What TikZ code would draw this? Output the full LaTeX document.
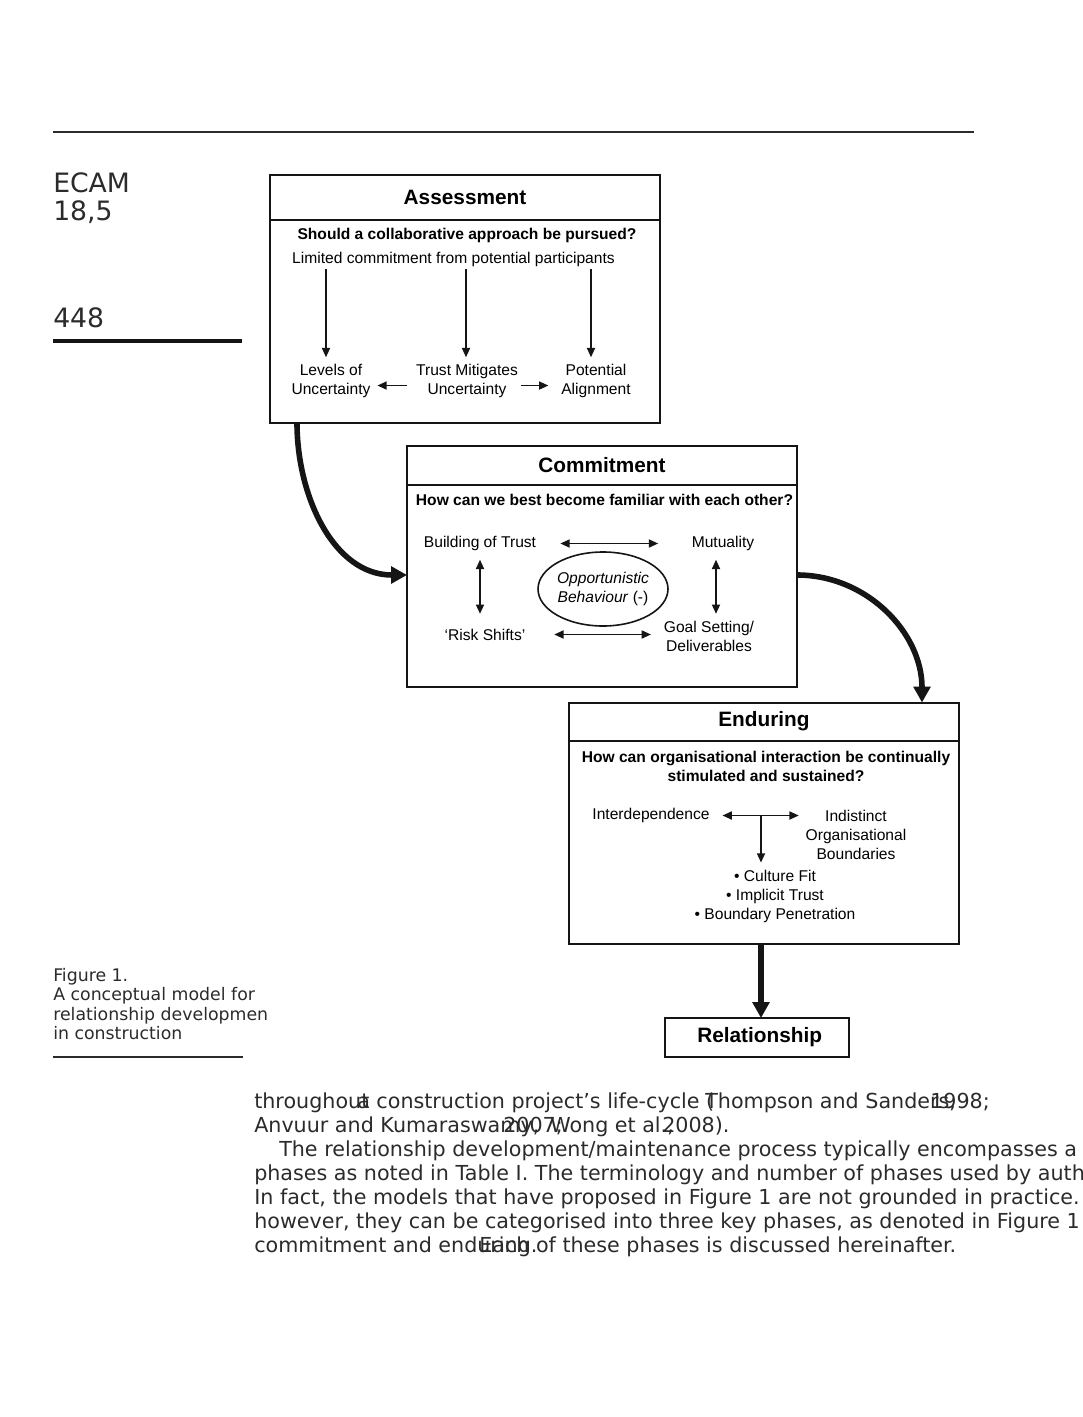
\documentclass[tikz,border=0pt]{standalone}
\usepackage{fontspec}
\setmainfont{Liberation Sans}
\newfontfamily\pagefont{DejaVu Sans}
\usetikzlibrary{shapes.geometric, arrows.meta, positioning}
\definecolor{Page_Gray}{HTML}{2B2B2B}
\definecolor{Box_Black}{HTML}{151515}

\tikzset{
  phasetitle/.style={draw=Box_Black, line width=1.5pt, minimum width=292.5pt, outer sep=0pt, inner sep=0pt, font=\fontsize{15.6}{18}\selectfont\bfseries},
  phasebody/.style={draw=Box_Black, line width=1.5pt, minimum width=292.5pt, outer sep=0pt, inner sep=0pt},
  itemtext/.style={font=\fontsize{11.7}{14.25}\selectfont, align=center, inner sep=2pt},
  question/.style={font=\fontsize{11.7}{14.25}\selectfont\bfseries, align=center, inner sep=1pt},
  thinarrow/.style={-{Triangle[length=7pt,width=6pt]}, line width=1.3pt, Box_Black},
  bothways/.style={{Triangle[length=7pt,width=6pt]}-{Triangle[length=7pt,width=6pt]}, line width=1.3pt, Box_Black},
  bigarrow/.style={-{Triangle[length=12pt,width=12.5pt]}, line width=4.2pt, Box_Black},
  pagetext/.style={font=\pagefont\fontsize{15.5}{18}\selectfont, text=Page_Gray, anchor=base west, inner sep=0pt},
  sidetext/.style={font=\pagefont\fontsize{13}{15}\selectfont, text=Page_Gray, anchor=base west, inner sep=0pt},
  headtext/.style={font=\pagefont\fontsize{20}{24}\selectfont, text=Page_Gray, anchor=base west, inner sep=0pt},
}

\begin{document}
\begin{tikzpicture}[x=0.75pt, y=-0.75pt]
    \useasboundingbox (0,0) rectangle (1082,1417);
    \clip (0,0) rectangle (1082,1417);

    % ===== Page furniture =====
    \draw[line width=0.9pt, Page_Gray] (53,132) -- (974,132);
    \node[headtext] (journal) at (53,192) {ECAM};
    \node[headtext] (volume) at (53,220) {18,5};
    \node[headtext] (pageno) at (53,327) {448};
    \draw[line width=3pt, Box_Black] (53,341) -- (242,341);

    \node[sidetext] (cap1) at (53,981) {Figure 1.};
    \node[sidetext] (cap2) at (53,1000.5) {A conceptual model for};
    \node[sidetext] (cap3) at (53,1020) {relationship developmen};
    \node[sidetext] (cap4) at (53,1039.5) {in construction};
    \draw[line width=0.9pt, Page_Gray] (53,1057) -- (243,1057);

    % ===== Assessment =====
    \node[phasetitle, minimum height=33.75pt] (assessT) at (465,197.5) {Assessment};
    \node[phasebody, minimum height=152.25pt, below=0pt of assessT] (assess) {};
    \node[question] (assessQ) at (467,235) {Should a collaborative approach be pursued?};
    \node[itemtext] (limited) at (453.5,259) {Limited commitment from potential participants};
    \node[itemtext] (levels) at (331,381) {Levels of\\Uncertainty};
    \node[itemtext] (trust) at (467,381) {Trust Mitigates\\Uncertainty};
    \node[itemtext] (potential) at (596,381) {Potential\\Alignment};

    \draw[thinarrow, shorten >=3pt] ([xshift=-3.75pt]levels.north |- limited.south) -- ([xshift=-3.75pt]levels.north);
    \draw[thinarrow, shorten >=3pt] ([xshift=-0.75pt]trust.north |- limited.south) -- ([xshift=-0.75pt]trust.north);
    \draw[thinarrow, shorten >=3pt] ([xshift=-3.75pt]potential.north |- limited.south) -- ([xshift=-3.75pt]potential.north);
    \draw[thinarrow, shorten <=4.5pt, shorten >=3pt] ([yshift=-3.4pt]trust.west) -- ([yshift=-3.4pt]levels.east);
    \draw[thinarrow, shorten >=7.5pt] ([yshift=-3.4pt]trust.east) -- ([yshift=-3.4pt]potential.west);

    % ===== Commitment =====
    \node[phasetitle, minimum height=29.25pt] (commitT) at (602,465.5) {Commitment};
    \node[phasebody, minimum height=151.5pt, below=0pt of commitT] (commit) {};
    \node[question] (commitQ) at (604.5,500) {How can we best become familiar with each other?};
    \node[itemtext] (buildtrust) at (480,543.5) {Building of Trust};
    \node[itemtext] (mutual) at (723,543.5) {Mutuality};
    \node[itemtext] (risk) at (485,634.5) {‘Risk Shifts’};
    \node[itemtext] (goal) at (709,636) {Goal Setting/\\Deliverables};
    \node[draw=Box_Black, ellipse, line width=1.2pt, minimum width=94.5pt, minimum height=55.5pt,
          inner sep=0pt, align=center, font=\fontsize{11.7}{14.25}\selectfont] (opport) at (603,589)
          {\textit{Opportunistic}\\\textit{Behaviour} (-)};

    \draw[bothways, shorten <=16pt, shorten >=23pt] (buildtrust.east) -- (buildtrust.east -| mutual.west);
    \draw[bothways, shorten <=4.5pt, shorten >=9pt] (buildtrust.south) -- (buildtrust.south |- risk.north);
    \draw[bothways, shorten <=4.5pt, shorten >=3pt] ([xshift=-5.25pt]mutual.south) -- ([xshift=-5.25pt]mutual.south |- goal.north);
    \draw[bothways, shorten <=19.5pt, shorten >=7.5pt] (risk.east) -- (risk.east -| goal.west);

    % ===== Enduring =====
    \node[phasetitle, minimum height=28.5pt] (endurT) at (764,721.5) {Enduring};
    \node[phasebody, minimum height=152.25pt, below=0pt of endurT] (endur) {};
    \node[question] (endurQ) at (766,766) {How can organisational interaction be continually\\stimulated and sustained?};
    \node[itemtext] (interdep) at (651,815.5) {Interdependence};
    \node[itemtext] (indistinct) at (856,834.5) {Indistinct\\Organisational\\Boundaries};
    \node[itemtext] (bullets) at (775,896.5) {• Culture Fit\\• Implicit Trust\\• Boundary Penetration};
    \coordinate (tee) at (761,815);

    \draw[bothways, shorten <=7.5pt, shorten >=3pt] (interdep.east) -- (interdep.east -| indistinct.west);
    \draw[thinarrow, shorten >=3.5pt] (tee) -- (tee |- bullets.north);

    % ===== Relationship =====
    \node[phasetitle, minimum width=138pt, minimum height=29.25pt] (relation) at (757,1037.5) {\hspace{4pt}Relationship};

    % Arrows between phases
    \draw[bigarrow] ([xshift=-126pt]assess.south) to[out=-90, in=180] ([yshift=8.25pt]commit.west);
    \draw[bigarrow] ([yshift=8.25pt]commit.east) to[out=0, in=90] ([xshift=118.5pt]endurT.north);
    \draw[bigarrow] ([xshift=-2.25pt]endur.south) -- ([xshift=-2.25pt]endur.south |- relation.north);

    % ===== Body text =====
    \node[pagetext] (l1a) at (254,1108) {throughout};
    \node[pagetext] (l1b) at (357,1108) {a construction project’s life-cycle (};
    \node[pagetext] (l1c) at (705,1108) {Thompson and Sanders,};
    \node[pagetext] (l1d) at (930,1108) {1998;};
    \node[pagetext] (l2a) at (254,1132) {Anvuur and Kumaraswamy,};
    \node[pagetext] (l2b) at (503,1132) {2007;};
    \node[pagetext] (l2c) at (550,1132) {Wong et al.,};
    \node[pagetext] (l2d) at (662,1132) {2008).};
    \node[pagetext] (l3) at (279,1156) {The relationship development/maintenance process typically encompasses a};
    \node[pagetext] (l4) at (254,1180) {phases as noted in Table I. The terminology and number of phases used by authors};
    \node[pagetext] (l5) at (254,1204) {In fact, the models that have proposed in Figure 1 are not grounded in practice.};
    \node[pagetext] (l6) at (254,1228) {however, they can be categorised into three key phases, as denoted in Figure 1};
    \node[pagetext] (l7a) at (254,1252) {commitment and enduring.};
    \node[pagetext] (l7b) at (479,1252) {Each of these phases is discussed hereinafter.};
\end{tikzpicture}
\end{document}
